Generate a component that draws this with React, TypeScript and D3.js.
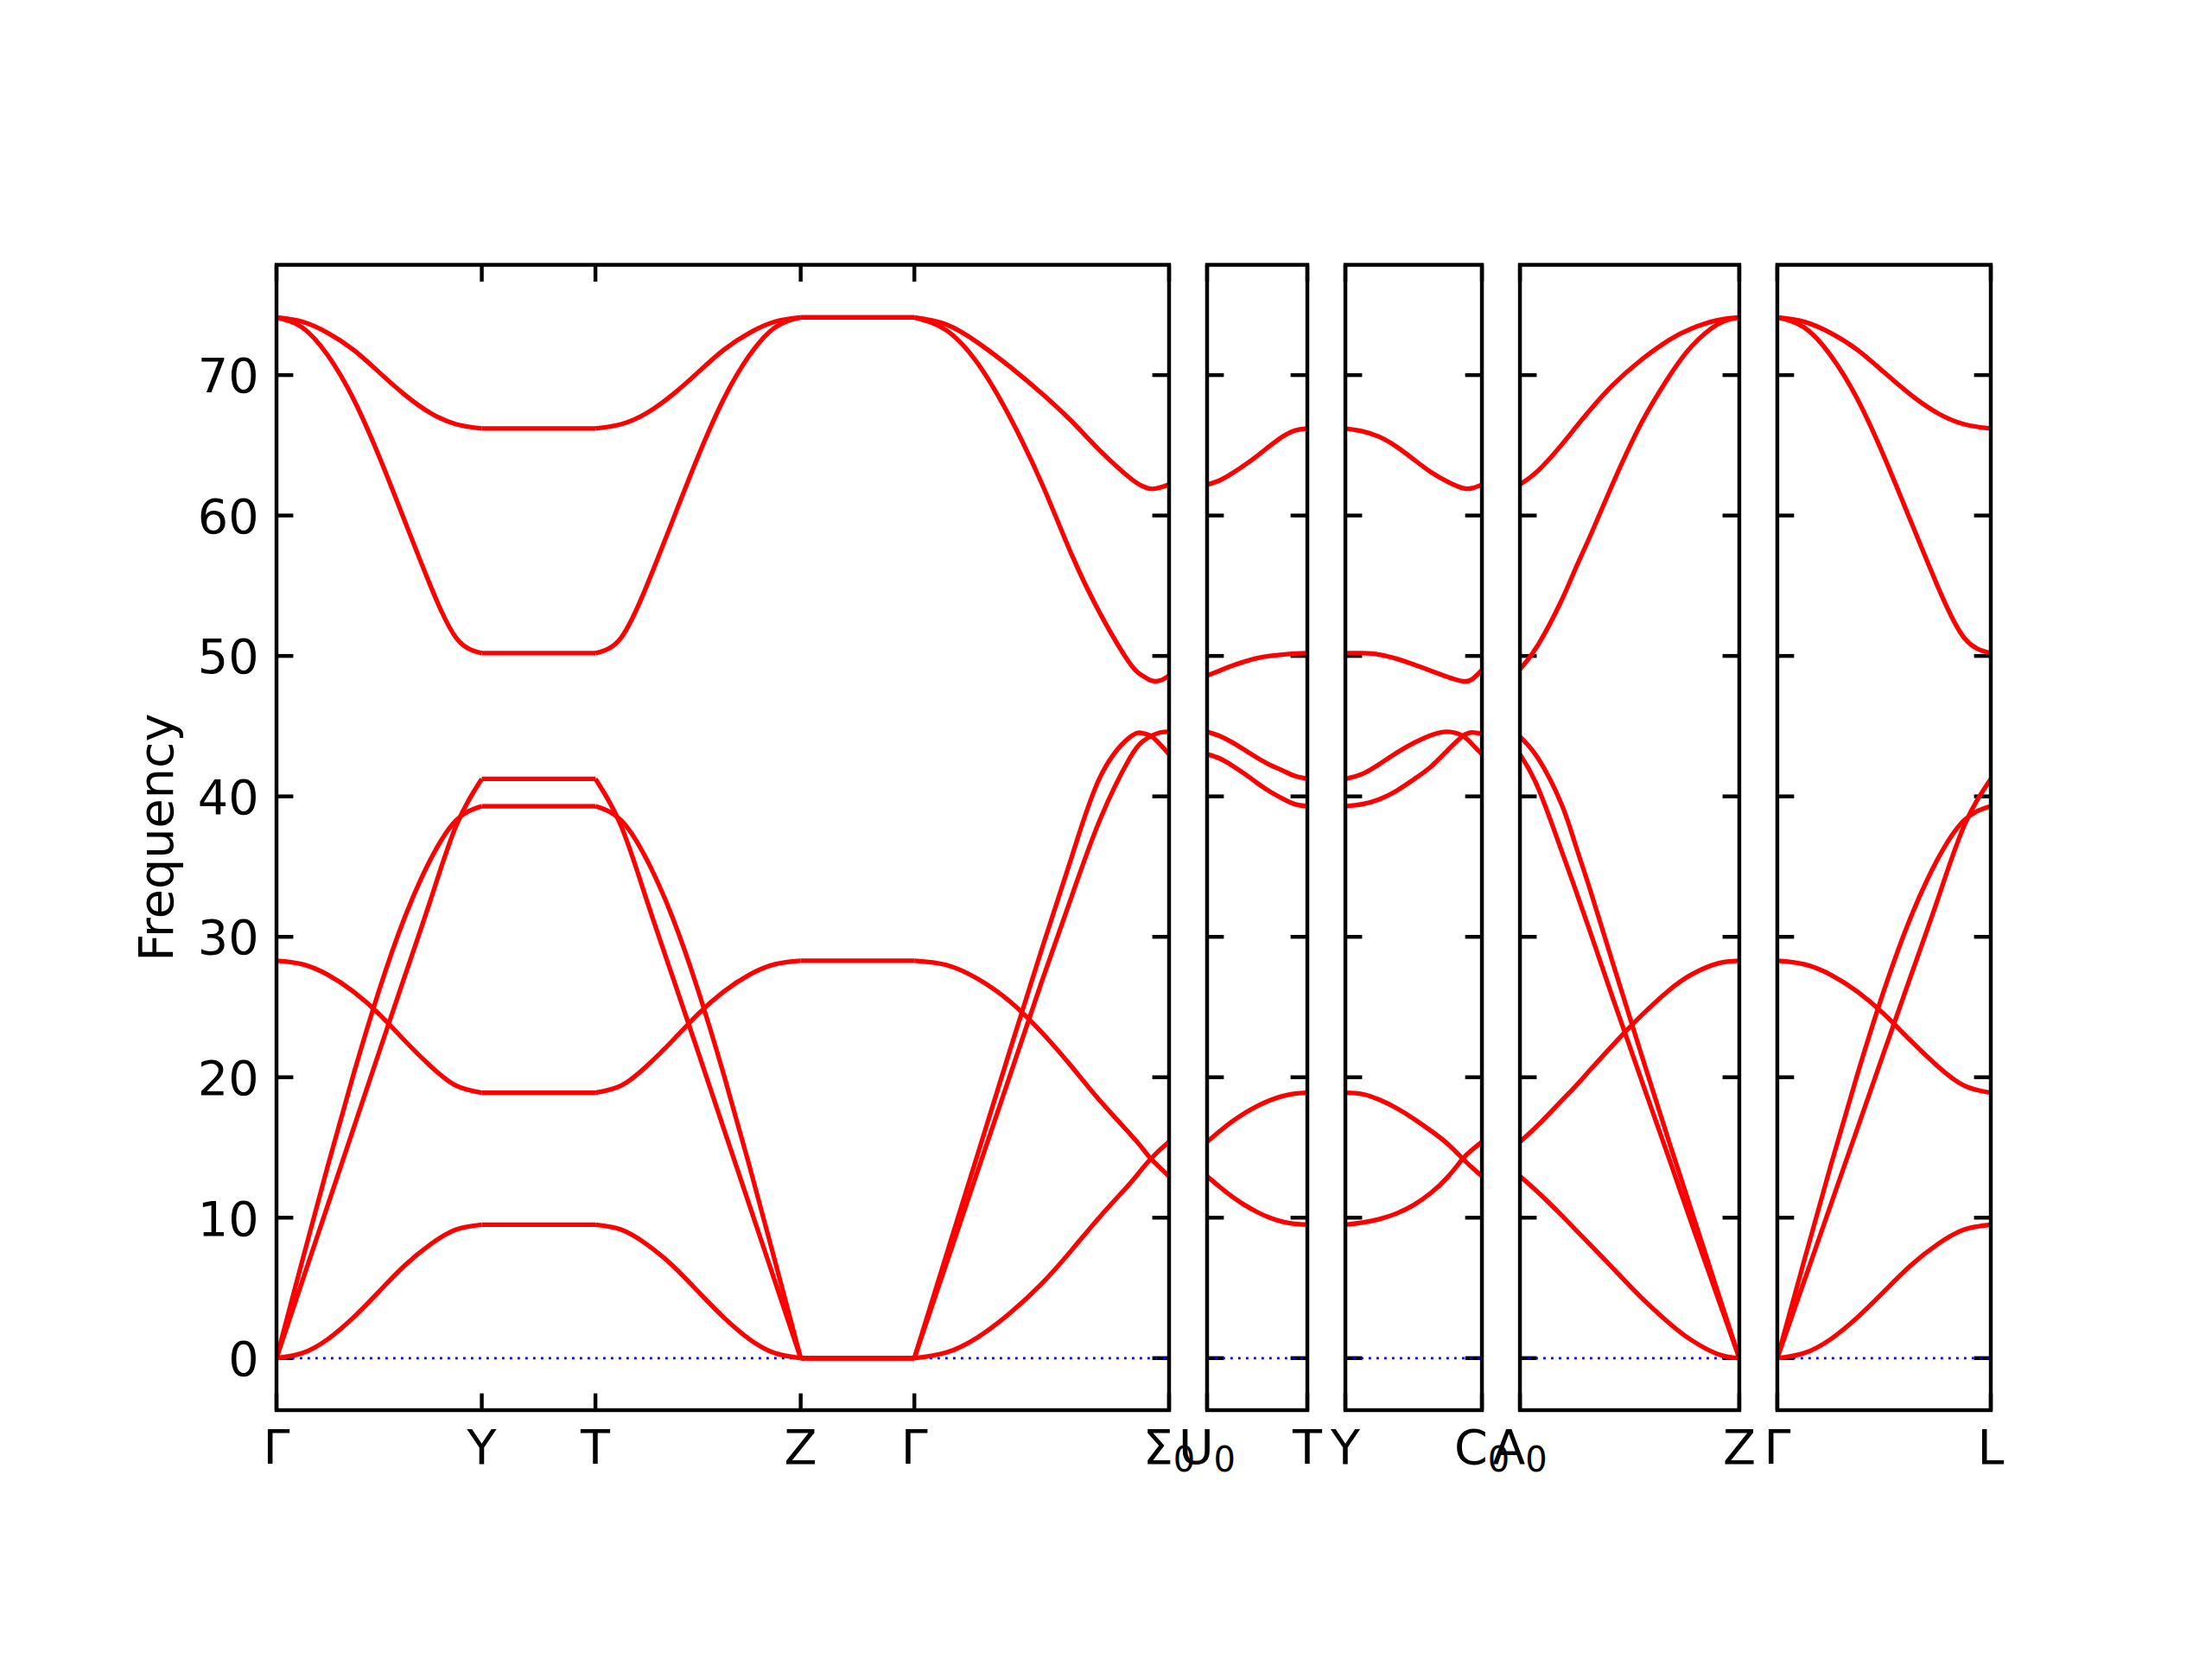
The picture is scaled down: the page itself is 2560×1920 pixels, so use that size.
import React from 'react';
import * as d3 from 'd3';

// ---------- figure geometry ----------
const W = 2560;
const H = 1920;
const AX_LEFT = 320;
const AX_RIGHT = 2304;
const AX_TOP = 306.5;
const AX_BOTTOM = 1632;
const GAP = 44;
const FONT = 'DejaVu Sans';
const FS = 55.6;
const SPINE_W = 4.44;
const TICK_LEN = 19.4;
const RED_W = 5.3;

// ---------- axis data ----------
const yDomain = [-3.705, 77.85];
const yTicks = [0, 10, 20, 30, 40, 50, 60, 70];
const yLabel = 'Frequency';

// special-point labels for each panel ("_" marks a subscript)
const labelsP1 = ['Γ', 'Y', 'T', 'Z', 'Γ', 'Σ_0'];
const labelsP2 = ['U_0', 'T'];
const labelsP3 = ['Y', 'C_0'];
const labelsP4 = ['A_0', 'Z'];
const labelsP5 = ['Γ', 'L'];

// path lengths of each segment (reciprocal-space distance)
const lengthsP1 = [0.2375, 0.1315, 0.2375, 0.1315, 0.2947];
const lengthsP2 = [0.116];
const lengthsP3 = [0.158];
const lengthsP4 = [0.2538];
const lengthsP5 = [0.247];

// ---------- band data: fractional position along segment + 6 bands ----------
const tUniform = [0, 0.125, 0.25, 0.375, 0.5, 0.625, 0.75, 0.875, 1];
const tFlat = [0, 1];

// Γ → Y
const bandsGammaY = [
  [0, 0.35, 1.35, 2.9, 4.75, 6.6, 8.1, 9.15, 9.5],
  [0, 6.9, 13.7, 20.2, 26.2, 31.4, 35.5, 38.3, 39.3],
  [0, 5.45, 10.9, 16.35, 21.8, 27.2, 32.6, 37.9, 41.25],
  [28.3, 28.05, 27.3, 26.1, 24.5, 22.6, 20.8, 19.4, 18.9],
  [74.1, 73.4, 71.4, 68.3, 64.2, 59.6, 55.0, 51.3, 50.2],
  [74.1, 73.8, 73.0, 71.8, 70.2, 68.6, 67.3, 66.5, 66.2],
];
// Y → T
const bandsYT = [
  [9.5, 9.5], [39.3, 39.3], [41.25, 41.25], [18.9, 18.9], [50.2, 50.2], [66.2, 66.2],
];
// T → Z
const bandsTZ = [
  [9.5, 9.15, 8.1, 6.6, 4.75, 2.9, 1.35, 0.35, 0],
  [39.3, 38.3, 35.5, 31.4, 26.2, 20.2, 13.7, 6.9, 0],
  [41.25, 37.9, 32.6, 27.2, 21.8, 16.35, 10.9, 5.45, 0],
  [18.9, 19.4, 20.8, 22.6, 24.5, 26.1, 27.3, 28.05, 28.3],
  [50.2, 51.3, 55.0, 59.6, 64.2, 68.3, 71.4, 73.4, 74.1],
  [66.2, 66.5, 67.3, 68.6, 70.2, 71.8, 73.0, 73.8, 74.1],
];
// Z → Γ
const bandsZGamma = [
  [0, 0], [0, 0], [0, 0], [28.3, 28.3], [74.1, 74.1], [74.1, 74.1],
];
// Γ → Σ0
const tGammaSigma = [0, 0.125, 0.25, 0.375, 0.5, 0.618, 0.73, 0.845, 0.895, 0.929, 0.965, 1];
const bandsGammaSigma = [
  [0, 0.4, 1.5, 3.2, 5.3, 7.7, 10.1, 12.4, 13.5, 14.2, 14.85, 15.4],
  [28.3, 28.0, 27.0, 25.4, 23.2, 20.75, 18.3, 16.0, 14.95, 14.2, 13.55, 12.95],
  [0, 7.3, 14.6, 21.9, 29.1, 35.7, 41.4, 44.2, 44.5, 44.3, 43.7, 43.0],
  [0, 6.7, 13.4, 20.1, 26.8, 32.9, 38.4, 42.7, 43.9, 44.3, 44.55, 44.6],
  [74.1, 73.2, 70.8, 67.0, 62.3, 57.2, 53.0, 49.5, 48.6, 48.25, 48.25, 48.6],
  [74.1, 73.6, 72.3, 70.6, 68.7, 66.7, 64.6, 62.7, 62.1, 61.9, 62.0, 62.2],
];
// U0 → T
const bandsU0T = [
  [12.95, 12.2, 11.5, 10.9, 10.4, 10.0, 9.72, 9.56, 9.5],
  [15.4, 16.15, 16.85, 17.45, 17.95, 18.35, 18.65, 18.84, 18.9],
  [43.0, 42.7, 42.2, 41.6, 40.95, 40.35, 39.85, 39.45, 39.3],
  [44.6, 44.3, 43.85, 43.3, 42.75, 42.25, 41.85, 41.45, 41.25],
  [48.6, 48.95, 49.3, 49.6, 49.85, 50.0, 50.1, 50.17, 50.2],
  [62.2, 62.5, 63.0, 63.6, 64.25, 64.95, 65.6, 66.05, 66.2],
];
// Y → C0
const tYC0 = [0, 0.125, 0.25, 0.375, 0.5, 0.625, 0.75, 0.86, 0.93, 1];
const bandsYC0 = [
  [9.5, 9.65, 9.9, 10.3, 10.9, 11.75, 12.9, 14.2, 14.85, 15.4],
  [18.9, 18.8, 18.4, 17.8, 17.05, 16.2, 15.25, 14.2, 13.55, 12.95],
  [39.3, 39.45, 39.8, 40.4, 41.2, 42.1, 43.3, 44.3, 44.55, 44.45],
  [41.25, 41.6, 42.3, 43.1, 43.8, 44.35, 44.6, 44.3, 43.7, 43.0],
  [50.2, 50.2, 50.1, 49.8, 49.4, 48.95, 48.5, 48.2, 48.35, 49.0],
  [66.2, 66.0, 65.6, 64.9, 64.0, 63.1, 62.4, 61.95, 61.95, 62.2],
];
// A0 → Z
const tA0Z = [0, 0.083, 0.188, 0.25, 0.319, 0.424, 0.554, 0.68, 0.78, 0.9, 1];
const bandsA0Z = [
  [12.95, 11.8, 10.2, 9.2, 8.1, 6.4, 4.3, 2.5, 1.3, 0.3, 0],
  [15.4, 16.6, 18.3, 19.3, 20.5, 22.3, 24.4, 26.2, 27.3, 28.1, 28.3],
  [43.0, 40.6, 36.2, 33.5, 30.4, 25.6, 19.8, 14.2, 9.7, 4.4, 0],
  [44.25, 42.7, 39.5, 36.7, 33.4, 28.1, 21.6, 15.4, 10.6, 4.8, 0],
  [49.05, 50.8, 53.9, 56.1, 58.5, 62.3, 66.6, 69.9, 72.0, 73.6, 74.1],
  [62.2, 63.2, 65.0, 66.2, 67.5, 69.3, 71.1, 72.5, 73.3, 73.9, 74.1],
];
// Γ → L
const bandsGammaL = [
  [0, 0.35, 1.35, 2.9, 4.75, 6.6, 8.1, 9.15, 9.5],
  [0, 6.9, 13.7, 20.2, 26.2, 31.4, 35.5, 38.3, 39.3],
  [0, 5.45, 10.9, 16.35, 21.8, 27.2, 32.6, 37.9, 41.25],
  [28.3, 28.05, 27.3, 26.1, 24.5, 22.6, 20.8, 19.4, 18.9],
  [74.1, 73.4, 71.4, 68.3, 64.2, 59.6, 55.0, 51.3, 50.2],
  [74.1, 73.8, 73.0, 71.8, 70.2, 68.6, 67.3, 66.5, 66.2],
];

type Seg = { t: number[]; bands: number[][] };
type Panel = { labels: string[]; lengths: number[]; segs: Seg[] };

const panels: Panel[] = [
  {
    labels: labelsP1,
    lengths: lengthsP1,
    segs: [
      { t: tUniform, bands: bandsGammaY },
      { t: tFlat, bands: bandsYT },
      { t: tUniform, bands: bandsTZ },
      { t: tFlat, bands: bandsZGamma },
      { t: tGammaSigma, bands: bandsGammaSigma },
    ],
  },
  { labels: labelsP2, lengths: lengthsP2, segs: [{ t: tUniform, bands: bandsU0T }] },
  { labels: labelsP3, lengths: lengthsP3, segs: [{ t: tYC0, bands: bandsYC0 }] },
  { labels: labelsP4, lengths: lengthsP4, segs: [{ t: tA0Z, bands: bandsA0Z }] },
  { labels: labelsP5, lengths: lengthsP5, segs: [{ t: tUniform, bands: bandsGammaL }] },
];

function Label({ x, y, text }: { x: number; y: number; text: string }) {
  const [main, sub] = text.split('_');
  return (
    <text x={x} y={y} textAnchor="middle" fontFamily={FONT} fontSize={FS} fill="#000">
      {main}
      {sub !== undefined && (
        <tspan fontSize={40} dy={8.5}>
          {sub}
        </tspan>
      )}
    </text>
  );
}

export default function App() {
  const y = d3.scaleLinear().domain(yDomain).range([AX_BOTTOM, AX_TOP]);
  const totals = panels.map((p) => d3.sum(p.lengths));
  const avail = AX_RIGHT - AX_LEFT - GAP * (panels.length - 1);
  const totalAll = d3.sum(totals);
  let cursor = AX_LEFT;
  const layout = panels.map((p, i) => {
    const w = (avail * totals[i]) / totalAll;
    const x0 = cursor;
    cursor += w + GAP;
    const x = d3.scaleLinear().domain([0, totals[i]]).range([x0, x0 + w]);
    const cum = [0, ...d3.cumsum(p.lengths)];
    return { x0, w, x, cum };
  });

  const line = d3
    .line<[number, number]>()
    .x((d) => d[0])
    .y((d) => d[1])
    .curve(d3.curveNatural);

  return (
    <svg
      width={W}
      height={H}
      viewBox={`0 0 ${W} ${H}`}
      style={{ position: 'absolute', left: 0, top: 0, background: '#fff' }}
    >
      <rect x={0} y={0} width={W} height={H} fill="#fff" />
      <defs>
        {layout.map((L, i) => (
          <clipPath id={`clip${i}`} key={i}>
            <rect x={L.x0} y={AX_TOP} width={L.w} height={AX_BOTTOM - AX_TOP} />
          </clipPath>
        ))}
      </defs>
      {panels.map((p, i) => {
        const L = layout[i];
        const x1 = L.x0 + L.w;
        return (
          <g key={i}>
            {yTicks.map((v) => (
              <g key={v} stroke="#000" strokeWidth={SPINE_W}>
                <line x1={L.x0} x2={L.x0 + TICK_LEN} y1={y(v)} y2={y(v)} />
                <line x1={x1 - TICK_LEN} x2={x1} y1={y(v)} y2={y(v)} />
              </g>
            ))}
            {L.cum.map((c, k) => (
              <g key={k} stroke="#000" strokeWidth={SPINE_W}>
                <line x1={L.x(c)} x2={L.x(c)} y1={AX_BOTTOM} y2={AX_BOTTOM - TICK_LEN} />
                <line x1={L.x(c)} x2={L.x(c)} y1={AX_TOP} y2={AX_TOP + TICK_LEN} />
              </g>
            ))}
            <line
              x1={L.x0}
              x2={x1}
              y1={y(0)}
              y2={y(0)}
              stroke="blue"
              strokeWidth={2.8}
              strokeDasharray="2.8 6.2"
            />
            <g clipPath={`url(#clip${i})`}>
              {p.segs.map((s, si) =>
                s.bands.map((b, bi) => {
                  const pts: [number, number][] = b.map((v, k) => [
                    L.x(L.cum[si] + s.t[k] * p.lengths[si]),
                    y(v),
                  ]);
                  return (
                    <path
                      key={`${si}-${bi}`}
                      d={line(pts) || ''}
                      fill="none"
                      stroke="red"
                      strokeWidth={RED_W}
                      strokeLinejoin="round"
                    />
                  );
                })
              )}
            </g>
            <rect
              x={L.x0}
              y={AX_TOP}
              width={L.w}
              height={AX_BOTTOM - AX_TOP}
              fill="none"
              stroke="#000"
              strokeWidth={SPINE_W}
            />
            {p.labels.map((lab, k) => (
              <Label key={k} x={L.x(L.cum[k])} y={1694} text={lab} />
            ))}
          </g>
        );
      })}
      {yTicks.map((v) => (
        <text
          key={v}
          x={AX_LEFT - TICK_LEN - 1}
          y={y(v) + 20.3}
          textAnchor="end"
          fontFamily={FONT}
          fontSize={FS}
          fill="#000"
        >
          {v}
        </text>
      ))}
      <text
        transform={`translate(200,${(AX_TOP + AX_BOTTOM) / 2}) rotate(-90)`}
        textAnchor="middle"
        fontFamily={FONT}
        fontSize={FS}
        fill="#000"
      >
        {yLabel}
      </text>
    </svg>
  );
}
